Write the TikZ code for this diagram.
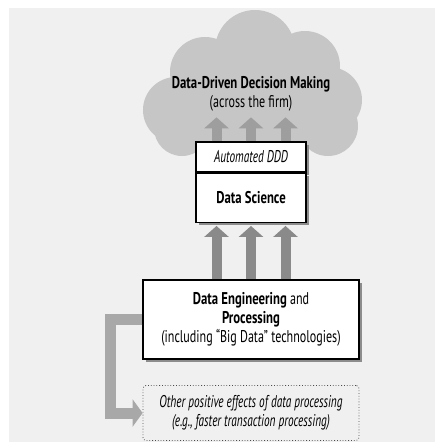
\documentclass[tikz,border=0pt]{standalone}
\usepackage{fontspec}
\setmainfont{PT Sans}[FakeStretch=0.71,
  BoldFeatures={FakeStretch=0.75},
  ItalicFeatures={FakeStretch=0.665}]
\usetikzlibrary{arrows.meta,positioning,shadows}
\definecolor{panelgrey}{RGB}{240,240,240}
\definecolor{cloudgrey}{RGB}{198,198,198}
\definecolor{arrowgrey}{RGB}{138,138,138}
\definecolor{liftgrey}{RGB}{158,158,158}
\definecolor{sidegrey}{RGB}{168,168,168}

\begin{document}
\begin{tikzpicture}[x=1pt, y=-1pt,
    box/.style={draw=black, line width=1.3pt, fill=white, align=center,
      drop shadow={shadow xshift=2.5pt, shadow yshift=-2.5pt, fill=black!45, opacity=1}},
    liftarrow/.style={line width=10pt, -{Triangle[length=11pt, width=24pt]}},
    sidearrow/.style={sidegrey, line width=11pt, -{Triangle[length=10pt, width=27pt]}},
    txt/.style={font=\fontsize{17}{19}\selectfont},
    itxt/.style={font=\itshape\fontsize{17}{19}\selectfont}]
    \useasboundingbox (0,0) rectangle (435,442);
    \fill[panelgrey] (9,8) rectangle (435,442);

    % Cloud
    \fill[cloudgrey]
      (255,50) circle (40)  (205,72) circle (35)  (305,66) circle (35)
      (176,110) circle (33) (329,100) circle (33)
      (182,128) circle (28) (328,126) circle (30)
      (220,120) circle (37) (285,120) circle (37) (255,95) circle (50);
    \node[txt, align=center] (ddd) at (251,94)
      {\textbf{Data-Driven Decision Making}\\(across the firm)};

    % Data Science box
    \node[box, itxt, minimum width=110pt, minimum height=30pt] (auto) at (251,157)
      {Automated DDD};
    \node[box, txt, minimum width=110pt, minimum height=49pt, below=0pt of auto] (ds)
      {\bfseries Data Science};

    % Data Engineering box
    \node[box, txt, minimum width=216pt, minimum height=79pt] (de) at (251,319.5)
      {\textbf{Data Engineering} and\\\textbf{Processing}\\(including “Big Data” technologies)};

    % Other effects
    \node[draw=black!70, dotted, thick, rounded corners=3pt, itxt, align=center,
      minimum width=216pt, minimum height=55pt] (oth) at (251,413)
      {Other positive effects of data processing\\(e.g., faster transaction processing)};

    % Arrows
    \foreach \dx in {-34.5,0,34.5}{
      \draw[liftarrow, liftgrey] ([xshift=\dx pt]auto.north) -- ++(0,-24);
      \draw[liftarrow, arrowgrey] ([xshift=\dx pt]de.north) -- ([xshift=\dx pt, yshift=-3pt]ds.south);
    }
    \draw[sidearrow] (de.west) -- ++(-32,0) |- (oth.west);
  \end{tikzpicture}
\end{document}
